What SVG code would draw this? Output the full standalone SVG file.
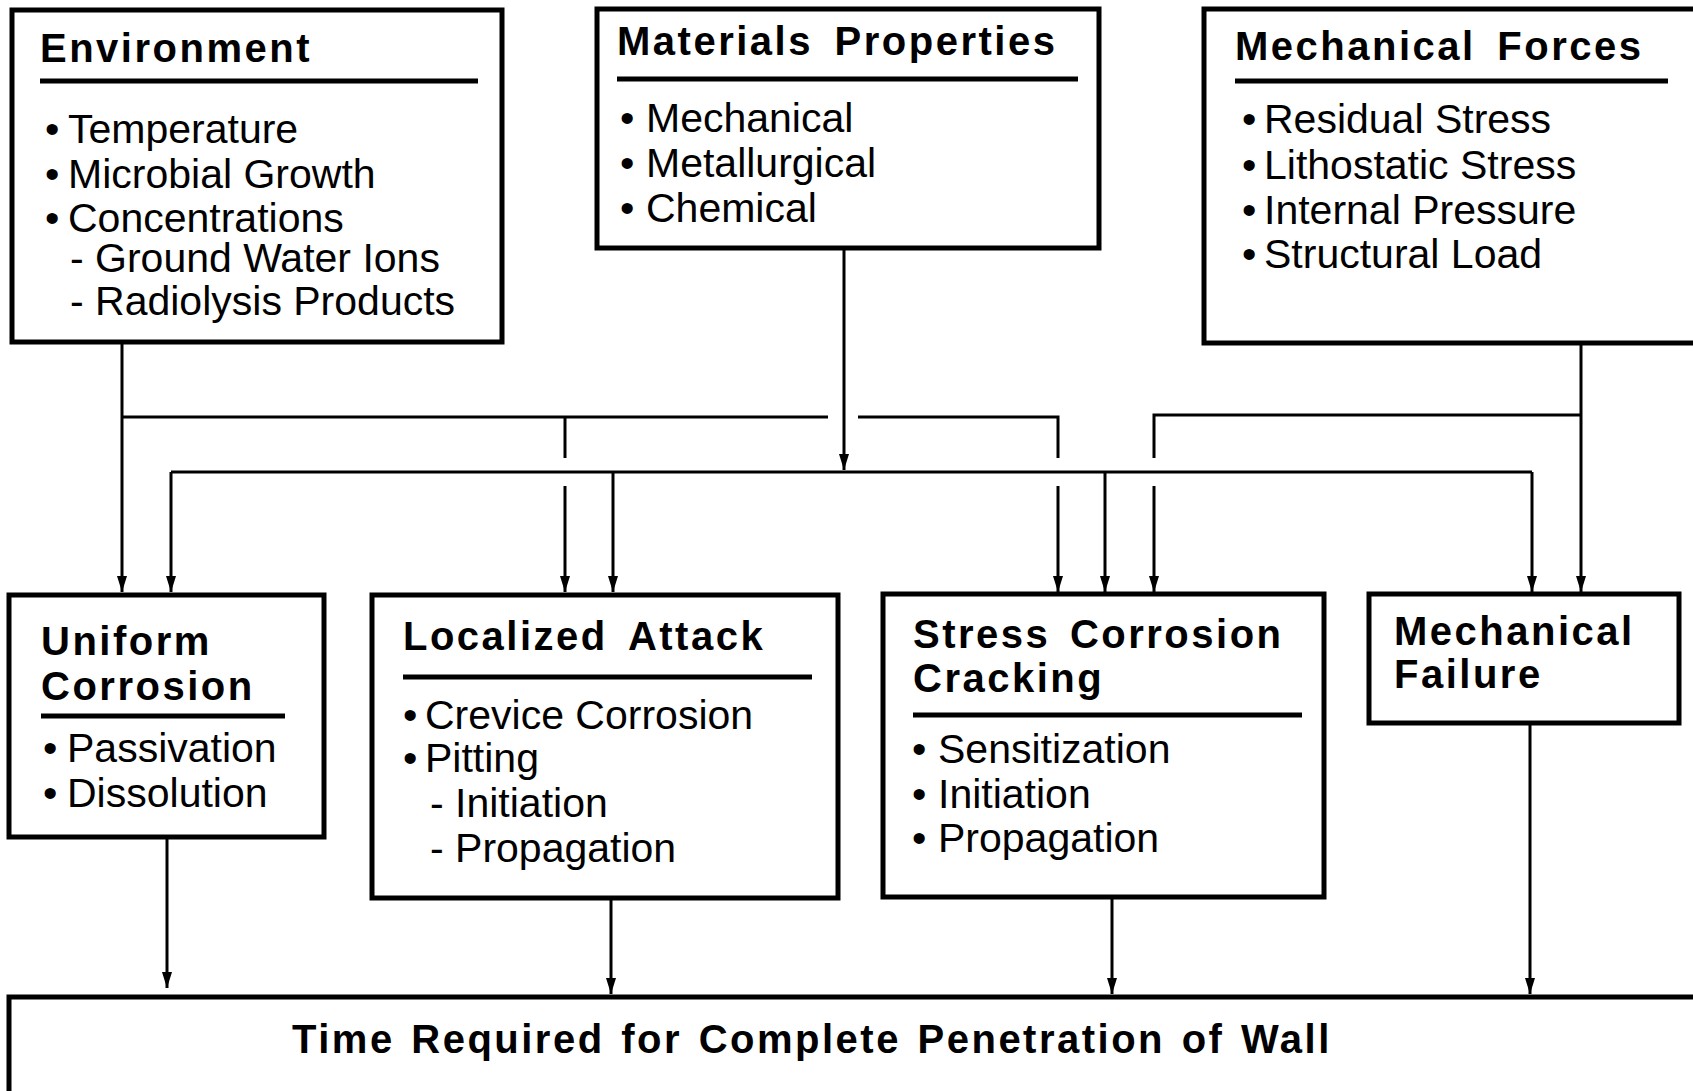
<svg xmlns="http://www.w3.org/2000/svg" width="1693" height="1091" viewBox="0 0 1693 1091">
<style>
.box{fill:#fff;stroke:#000;stroke-width:5}
.ul{stroke:#000;stroke-width:5}
.t{font-family:"Liberation Sans",Arial,Helvetica,sans-serif;font-weight:bold;font-size:40px;letter-spacing:2.5px;fill:#000}
.b{font-family:"Liberation Sans",Arial,Helvetica,sans-serif;font-size:41px;fill:#000}
.c{fill:none;stroke:#000;stroke-width:3}
</style>
<defs>
<marker id="ah" viewBox="0 0 16 10" refX="16" refY="5" markerWidth="16" markerHeight="10" markerUnits="userSpaceOnUse" orient="auto">
<path d="M0 0 L16 5 L0 10 Z" fill="#000"/>
</marker>
</defs>
<rect width="1693" height="1091" fill="#fff"/>

<g id="connectors">
<path class="c" d="M122 344 V592" marker-end="url(#ah)"/>
<path class="c" d="M122 417 H828"/>
<path class="c" d="M858 417 H1058 V458"/>
<path class="c" d="M1058 486 V592" marker-end="url(#ah)"/>
<path class="c" d="M565 417 V458"/>
<path class="c" d="M565 486 V592" marker-end="url(#ah)"/>
<path class="c" d="M844 250 V470" marker-end="url(#ah)"/>
<path class="c" d="M171 472 H1532"/>
<path class="c" d="M171 472 V592" marker-end="url(#ah)"/>
<path class="c" d="M613 472 V592" marker-end="url(#ah)"/>
<path class="c" d="M1105 472 V592" marker-end="url(#ah)"/>
<path class="c" d="M1532 472 V592" marker-end="url(#ah)"/>
<path class="c" d="M1581 345 V592" marker-end="url(#ah)"/>
<path class="c" d="M1581 415 H1154 V458"/>
<path class="c" d="M1154 486 V592" marker-end="url(#ah)"/>
<path class="c" d="M167 839 V988" marker-end="url(#ah)"/>
<path class="c" d="M611 900 V994" marker-end="url(#ah)"/>
<path class="c" d="M1112 899 V994" marker-end="url(#ah)"/>
<path class="c" d="M1530 725 V994" marker-end="url(#ah)"/>
</g>

<g id="environment">
<rect class="box" x="12" y="10" width="490" height="332"/>
<text class="t" x="40" y="62">Environment</text>
<line class="ul" x1="40" y1="81" x2="478" y2="81"/>
<text class="b"><tspan x="45" y="143">•</tspan><tspan x="68" y="143">Temperature</tspan></text>
<text class="b"><tspan x="45" y="188">•</tspan><tspan x="68" y="188">Microbial Growth</tspan></text>
<text class="b"><tspan x="45" y="232">•</tspan><tspan x="68" y="232">Concentrations</tspan></text>
<text class="b" x="70" y="272">- Ground Water Ions</text>
<text class="b" x="70" y="315">- Radiolysis Products</text>
</g>

<g id="materials-properties">
<rect class="box" x="597" y="9" width="502" height="239"/>
<text class="t" x="617" y="55" word-spacing="8">Materials Properties</text>
<line class="ul" x1="617" y1="79" x2="1078" y2="79"/>
<text class="b"><tspan x="620" y="132">•</tspan><tspan x="646" y="132">Mechanical</tspan></text>
<text class="b"><tspan x="620" y="177">•</tspan><tspan x="646" y="177">Metallurgical</tspan></text>
<text class="b"><tspan x="620" y="222">•</tspan><tspan x="646" y="222">Chemical</tspan></text>
</g>

<g id="mechanical-forces">
<rect class="box" x="1204" y="9" width="520" height="334"/>
<text class="t" x="1235" y="60" word-spacing="8">Mechanical Forces</text>
<line class="ul" x1="1235" y1="81" x2="1668" y2="81"/>
<text class="b"><tspan x="1242" y="133">•</tspan><tspan x="1264" y="133">Residual Stress</tspan></text>
<text class="b"><tspan x="1242" y="179">•</tspan><tspan x="1264" y="179">Lithostatic Stress</tspan></text>
<text class="b"><tspan x="1242" y="224">•</tspan><tspan x="1264" y="224">Internal Pressure</tspan></text>
<text class="b"><tspan x="1242" y="268">•</tspan><tspan x="1264" y="268">Structural Load</tspan></text>
</g>

<g id="uniform-corrosion">
<rect class="box" x="9" y="595" width="315" height="242"/>
<text class="t" x="41" y="655">Uniform</text>
<text class="t" x="41" y="700">Corrosion</text>
<line class="ul" x1="41" y1="716" x2="285" y2="716"/>
<text class="b"><tspan x="43" y="762">•</tspan><tspan x="67" y="762">Passivation</tspan></text>
<text class="b"><tspan x="43" y="807">•</tspan><tspan x="67" y="807">Dissolution</tspan></text>
</g>

<g id="localized-attack">
<rect class="box" x="372" y="595" width="466" height="303"/>
<text class="t" x="403" y="650" word-spacing="8">Localized Attack</text>
<line class="ul" x1="403" y1="677" x2="812" y2="677"/>
<text class="b"><tspan x="403" y="729">•</tspan><tspan x="425" y="729">Crevice Corrosion</tspan></text>
<text class="b"><tspan x="403" y="772">•</tspan><tspan x="425" y="772">Pitting</tspan></text>
<text class="b" x="430" y="817">- Initiation</text>
<text class="b" x="430" y="862">- Propagation</text>
</g>

<g id="stress-corrosion-cracking">
<rect class="box" x="883" y="594" width="441" height="303"/>
<text class="t" x="913" y="648" word-spacing="6">Stress Corrosion</text>
<text class="t" x="913" y="692">Cracking</text>
<line class="ul" x1="913" y1="715" x2="1302" y2="715"/>
<text class="b"><tspan x="912" y="763">•</tspan><tspan x="938" y="763">Sensitization</tspan></text>
<text class="b"><tspan x="912" y="808">•</tspan><tspan x="938" y="808">Initiation</tspan></text>
<text class="b"><tspan x="912" y="852">•</tspan><tspan x="938" y="852">Propagation</tspan></text>
</g>

<g id="mechanical-failure">
<rect class="box" x="1369" y="594" width="310" height="129"/>
<text class="t" x="1394" y="645">Mechanical</text>
<text class="t" x="1394" y="688">Failure</text>
</g>

<g id="time-required">
<rect class="box" x="9" y="997" width="1720" height="120"/>
<text class="t" x="292" y="1053" word-spacing="3">Time Required for Complete Penetration of Wall</text>
</g>
</svg>
